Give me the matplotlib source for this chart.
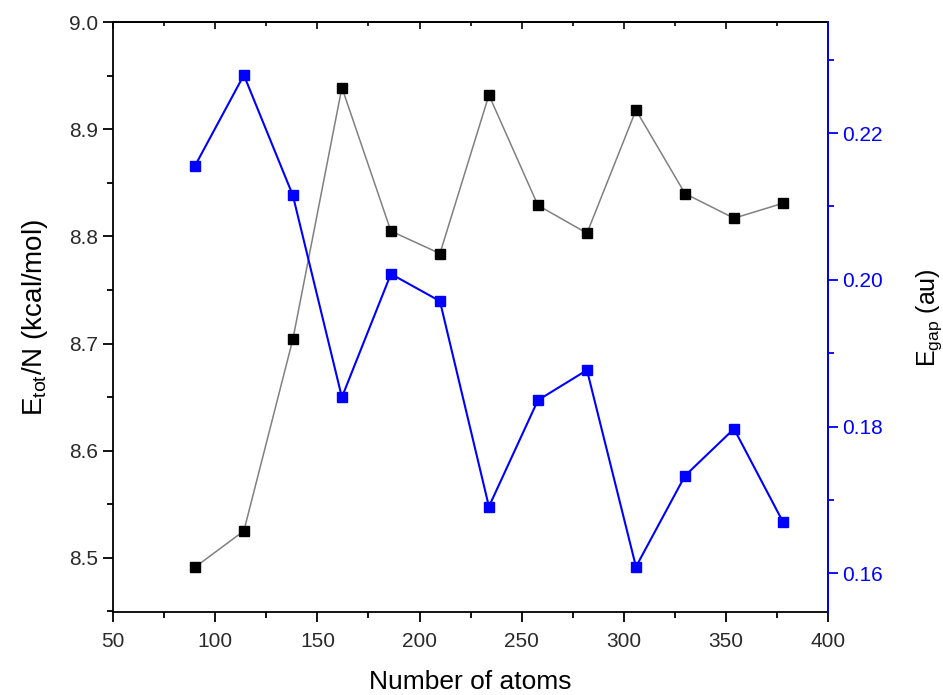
import matplotlib
matplotlib.use("Agg")
import matplotlib.pyplot as plt
from matplotlib.ticker import MultipleLocator

plt.rcParams['font.family'] = ['Liberation Sans', 'DejaVu Sans']
plt.rcParams['mathtext.default'] = 'regular'

# cluster sizes and computed properties
atoms = [90, 114, 138, 162, 186, 210, 234, 258, 282, 306, 330, 354, 378]
e_tot = [8.491, 8.525, 8.704, 8.939, 8.805, 8.784, 8.932, 8.829, 8.803, 8.918, 8.840, 8.817, 8.831]
e_gap = [0.2155, 0.2279, 0.2115, 0.1840, 0.2008, 0.1971, 0.1691, 0.1836, 0.1877, 0.1609, 0.1733, 0.1797, 0.1670]

fig = plt.figure(figsize=(9.43, 6.95), dpi=100)
ax = fig.add_axes([0.120, 0.119, 0.758, 0.849])
ax2 = ax.twinx()

ax.plot(atoms, e_tot, color='#808080', lw=1.1, marker='s', ms=7.5,
        mfc='black', mec='black', zorder=3)
ax2.plot(atoms, e_gap, color='blue', lw=1.5, marker='s', ms=7.5,
         mfc='blue', mec='blue', zorder=3)

ax.set_xlim(50, 400)
ax.set_ylim(8.449, 9.0)
ax2.set_ylim(0.1547, 0.2351)

ax.xaxis.set_major_locator(MultipleLocator(50))
ax.xaxis.set_minor_locator(MultipleLocator(25))
ax.yaxis.set_major_locator(MultipleLocator(0.1))
ax.yaxis.set_minor_locator(MultipleLocator(0.05))
ax2.yaxis.set_major_locator(MultipleLocator(0.02))
ax2.yaxis.set_minor_locator(MultipleLocator(0.01))
ax.yaxis.set_major_formatter(plt.FormatStrFormatter('%.1f'))
ax2.yaxis.set_major_formatter(plt.FormatStrFormatter('%.2f'))

ax.tick_params(which='major', direction='out', length=7, width=1.3, labelsize=15, colors='black')
ax.tick_params(which='minor', direction='out', length=4, width=1.3)
ax.tick_params(axis='both', labelcolor='#2a2a2a')
ax.tick_params(axis='x', which='major', pad=7)
ax2.tick_params(which='major', direction='out', length=7, width=1.3, labelsize=15,
                colors='blue')
ax2.tick_params(which='minor', direction='out', length=4, width=1.3, colors='blue')

# top axis: small inward ticks, no labels
top = ax.secondary_xaxis('top')
top.xaxis.set_major_locator(MultipleLocator(50))
top.xaxis.set_minor_locator(MultipleLocator(25))
top.tick_params(which='major', direction='in', length=5, width=1.2, labeltop=False)
top.tick_params(which='minor', direction='in', length=3, width=1.2)
top.spines['top'].set_linewidth(1.3)

for s in ax.spines.values():
    s.set_linewidth(1.3)
ax2.spines['right'].set_color('blue')
ax2.spines['right'].set_linewidth(1.3)
for name in ('left', 'top', 'bottom'):
    ax2.spines[name].set_visible(False)

ax.set_xlabel('Number of atoms', fontsize=19, labelpad=14)
ax.set_ylabel(r'E$_{tot}$/N (kcal/mol)', fontsize=20, labelpad=14)
ax2.set_ylabel(r'E$_{gap}$ (au)', fontsize=18, labelpad=22)

fig.savefig('out.png', dpi=100)
